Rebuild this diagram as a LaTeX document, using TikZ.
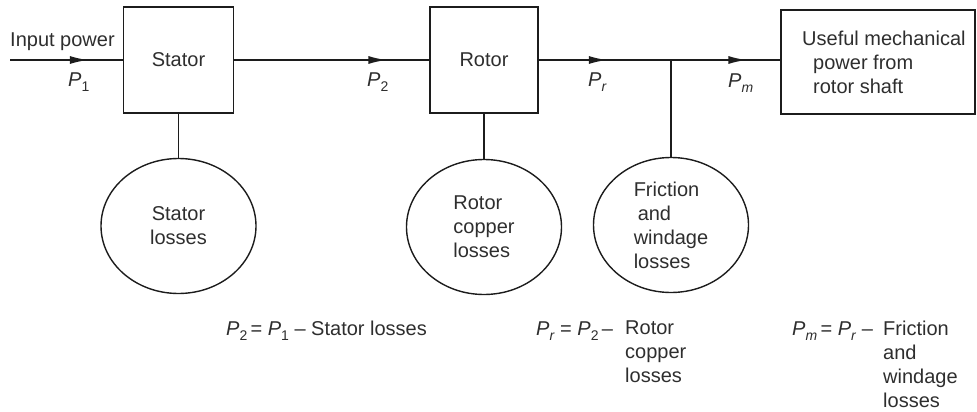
\documentclass[tikz,border=0pt]{standalone}
\usepackage{fontspec}
\setmainfont{Liberation Sans}
\usetikzlibrary{shapes.geometric,arrows.meta,decorations.markings}
\definecolor{ink}{HTML}{1C1C1C}
\definecolor{txt}{HTML}{2E2E2E}
\newcommand\Psub[1]{\textit{P}\raisebox{-0.55ex}{\fontsize{14}{14}\selectfont #1}}
\begin{document}
\begin{tikzpicture}[x=1pt,y=-1pt,
  every node/.style={font=\fontsize{20}{24}\selectfont, text=txt, inner sep=0pt},
  blockbox/.style={draw=ink, line width=1.4pt, rectangle},
  lossell/.style={draw=ink, line width=1.4pt, ellipse, minimum width=155, minimum height=135, align=left},
  wire/.style={draw=ink, line width=1.4pt},
  flow/.style={wire, decoration={markings, mark=at position #1 with {\arrow{Latex[length=18pt,width=8pt]}}}, postaction={decorate}}]
\useasboundingbox (0,0) rectangle (977,412);

% blocks
\node[blockbox, minimum width=110, minimum height=106] (stator) at (178.5,60) {Stator};
\node[blockbox, minimum width=108, minimum height=106] (rotor) at (484,60) {Rotor};
\node[blockbox, minimum width=194, minimum height=104] (useful) at (878,62) {};
\node[anchor=north west, align=left] (usefultxt) at (802,31) {Useful mechanical\\\hspace{11pt}power from\\\hspace{11pt}rotor shaft};

% loss ellipses
\node[lossell, align=center] (statl) at (178.5,226) {Stator\\losses};
\node[lossell] (rotl) at (484,227) {Rotor\\copper\\losses};
\node[lossell] (fricl) at (671,225) {Friction\\\hspace{4pt}and\\windage\\losses};

% power flow line
\coordinate (in) at (10,60);
\coordinate (junc) at (671,60);
\draw[flow=0.69] (in) -- (stator.west);
\draw[flow=0.78] (stator.east) -- (rotor.west);
\draw[flow=0.515] (rotor.east) -- (junc);
\draw[flow=0.69] (junc) -- (junc -| useful.west);

% loss branches
\draw[wire] (stator.south) -- (statl.north);
\draw[wire] (rotor.south) -- (rotl.north);
\draw[wire] (junc) -- (fricl.north);

% labels
\node[anchor=base west] (inlbl) at (10,47) {Input power};
\node[anchor=base west] (p1) at (68,86) {\Psub{1}};
\node[anchor=base west] (p2) at (367,86) {\Psub{2}};
\node[anchor=base west] (pr) at (588,86) {\Psub{\textit{r}}};
\node[anchor=base west] (pm) at (728,87) {\Psub{\textit{m}}};

% equations
\node[anchor=base west] (eq1) at (226,335) {\Psub{2}\,=\ \Psub{1} -- Stator losses};
\node[anchor=base west] (eq2a) at (536,335) {\Psub{\textit{r}} = \Psub{2}\,--};
\node[anchor=north west, align=left] (eq2b) at (625,321) {Rotor\\copper\\losses};
\node[anchor=base west] (eq3a) at (792,335) {\Psub{\textit{m}}\,= \Psub{\textit{r}} --};
\node[anchor=north west, align=left] (eq3b) at (883,320.5) {Friction\\and\\windage\\losses};
\end{tikzpicture}
\end{document}
